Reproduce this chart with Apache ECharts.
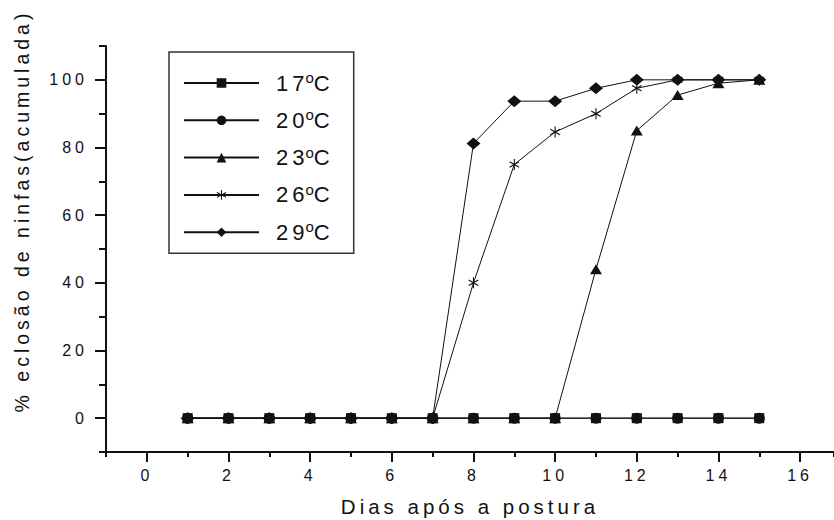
<!DOCTYPE html>
<html>
<head>
<meta charset="utf-8">
<script src="https://cdn.jsdelivr.net/npm/echarts@6/dist/echarts.min.js"></script>
<style>
  html, body { margin: 0; padding: 0; background: #fff; }
  #main { width: 834px; height: 520px; }
  #main text { letter-spacing: 4px; }
</style>
</head>
<body>
<div id="main"></div>
<script>
// dias apos a postura
const dias = [1, 2, 3, 4, 5, 6, 7, 8, 9, 10, 11, 12, 13, 14, 15];
// % eclosao acumulada por temperatura
const t17 = [0, 0, 0, 0, 0, 0, 0, 0, 0, 0, 0, 0, 0, 0, 0];
const t20 = [0, 0, 0, 0, 0, 0, 0, 0, 0, 0, 0, 0, 0, 0, 0];
const t23 = [0, 0, 0, 0, 0, 0, 0, 0, 0, 0, 44, 85, 95.5, 99, 100];
const t26 = [0, 0, 0, 0, 0, 0, 0, 40, 75, 84.6, 90, 97.5, 100, 100, 100];
const t29 = [0, 0, 0, 0, 0, 0, 0, 81.2, 93.7, 93.7, 97.5, 100, 100, 100, 100];
const nomes = ['17°C', '20°C', '23°C', '26°C', '29°C'];

// ticks principais (com rotulo)
const xMajor = [0, 2, 4, 6, 8, 10, 12, 14, 16];
const yMajor = [0, 20, 40, 60, 80, 100];

// asterisco de 6 pontas
const star = 'path://M9 0L11 0L11 20L9 20Z' +
  'M1.84 4.13L19.16 14.13L18.16 15.87L0.84 5.87Z' +
  'M0.84 14.13L18.16 4.13L19.16 5.87L1.84 15.87Z';

const fonte = 'Liberation Sans';
const preto = '#111';
const X_MIN = -1, X_MAX = 16.83, Y_MIN = -10, Y_MAX = 110;

function pares(vals) {
  return dias.map((d, i) => [d, vals[i]]);
}

function serie(nome, vals, symbol, size) {
  return {
    name: nome,
    type: 'line',
    data: pares(vals),
    symbol: symbol,
    symbolSize: size,
    symbolKeepAspect: true,
    showAllSymbol: true,
    lineStyle: { color: preto, width: 1 },
    itemStyle: { color: preto, borderWidth: 0 },
    emphasis: { disabled: true },
    animation: false
  };
}

const chart = echarts.init(document.getElementById('main'), null, { renderer: 'svg' });

const option = {
  backgroundColor: '#fff',
  animation: false,
  grid: { left: 106, right: 0, top: 46, bottom: 68, outerBoundsMode: 'none' },
  legend: {
    orient: 'vertical',
    left: 169,
    top: 52,
    padding: [18, 24, 8, 14],
    itemWidth: 75,
    itemHeight: 12,
    itemGap: 11.3,
    borderColor: '#333',
    borderWidth: 1.5,
    data: nomes,
    formatter: function (n) { return n.replace('°C', '') + '{s|o}C'; },
    textStyle: {
      fontFamily: fonte,
      fontSize: 22,
      lineHeight: 26,
      color: '#111',
      padding: [0, 0, 0, 12],
      rich: {
        s: { fontFamily: fonte, fontSize: 15, lineHeight: 15, verticalAlign: 'top', padding: [0, 0, 0, 5], color: '#111' }
      }
    }
  },
  xAxis: [{
    type: 'value',
    min: X_MIN,
    max: X_MAX,
    interval: 1,
    name: 'Dias após a postura',
    nameLocation: 'middle',
    nameGap: 44,
    nameMoveOverlap: false,
    nameTextStyle: { fontFamily: fonte, fontSize: 20.5, color: '#111' },
    splitLine: { show: false },
    axisLine: { show: true, onZero: false, lineStyle: { color: preto, width: 2 } },
    axisTick: { show: true, length: 5, lineStyle: { color: preto, width: 2 } },
    axisLabel: {
      margin: 15, fontFamily: fonte, fontSize: 16, color: '#111',
      formatter: function (v) { return xMajor.indexOf(v) >= 0 ? String(v) : ''; }
    }
  }, {
    // ticks longos
    type: 'value',
    min: X_MIN,
    max: X_MAX,
    position: 'top',
    offset: -406,
    splitLine: { show: false },
    axisLine: { show: false, onZero: false },
    axisTick: { show: true, inside: true, customValues: xMajor, length: 10, lineStyle: { color: preto, width: 2 } },
    axisLabel: { show: false }
  }],
  yAxis: [{
    type: 'value',
    min: Y_MIN,
    max: Y_MAX,
    interval: 10,
    name: '% eclosão de ninfas(acumulada)',
    nameLocation: 'middle',
    nameGap: 74,
    nameMoveOverlap: false,
    nameTextStyle: { fontFamily: fonte, fontSize: 19.5, color: '#111', padding: [0, 0, 0, 76] },
    splitLine: { show: false },
    axisLine: { show: true, onZero: false, lineStyle: { color: preto, width: 2 } },
    axisTick: { show: true, length: 7, lineStyle: { color: preto, width: 2 } },
    axisLabel: {
      margin: 18, fontFamily: fonte, fontSize: 16, color: '#111',
      formatter: function (v) { return yMajor.indexOf(v) >= 0 ? String(v) : ''; }
    }
  }, {
    // ticks longos
    type: 'value',
    min: Y_MIN,
    max: Y_MAX,
    position: 'right',
    offset: -728,
    splitLine: { show: false },
    axisLine: { show: false, onZero: false },
    axisTick: { show: true, inside: true, customValues: yMajor, length: 11, lineStyle: { color: preto, width: 2 } },
    axisLabel: { show: false }
  }],
  series: [
    serie(nomes[0], t17, 'rect', 10),
    serie(nomes[1], t20, 'circle', 11),
    serie(nomes[2], t23, 'triangle', [12, 10]),
    serie(nomes[3], t26, star, 11),
    serie(nomes[4], t29, 'diamond', [14, 12])
  ]
};

chart.setOption(option);
</script>
</body>
</html>
